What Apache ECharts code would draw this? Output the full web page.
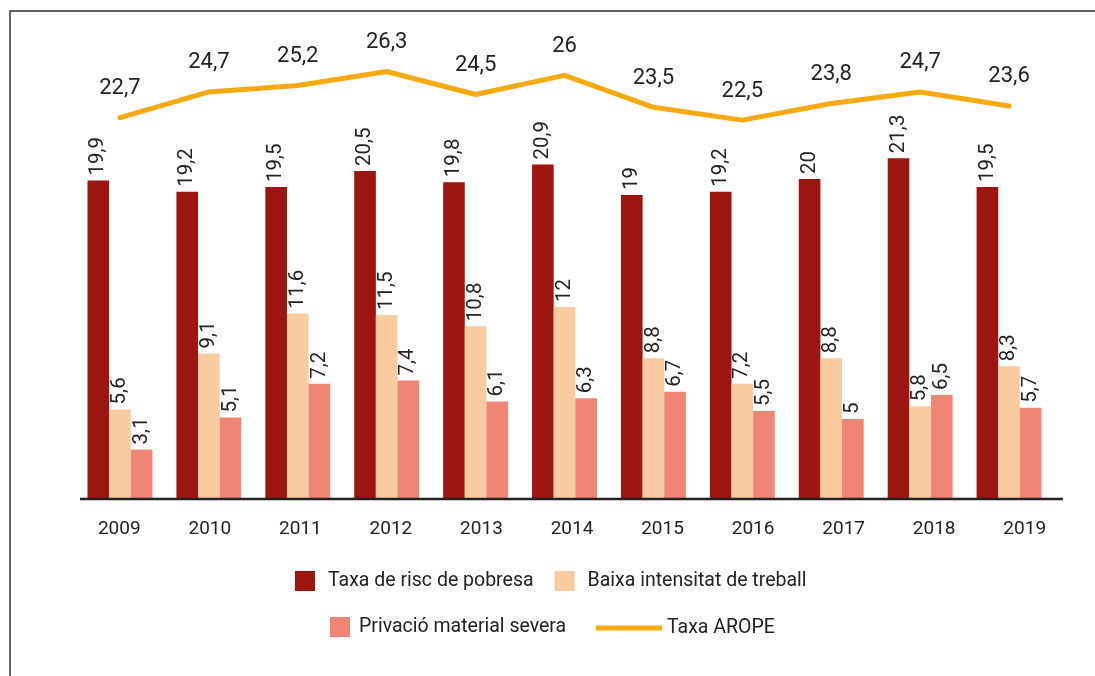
<!DOCTYPE html>
<html>
<head>
<meta charset="utf-8">
<script src="https://cdn.jsdelivr.net/npm/echarts@6/dist/echarts.min.js"></script>
<style>
  html, body { margin: 0; padding: 0; background: #fff; }
  #chart { width: 1095px; height: 676px; }
</style>
</head>
<body>
<div id="chart"></div>
<script>
// anys
const years = ['2009', '2010', '2011', '2012', '2013', '2014', '2015', '2016', '2017', '2018', '2019'];
// taxes (%)
const riscPobresa = [19.9, 19.2, 19.5, 20.5, 19.8, 20.9, 19, 19.2, 20, 21.3, 19.5];
const baixaIntensitat = [5.6, 9.1, 11.6, 11.5, 10.8, 12, 8.8, 7.2, 8.8, 5.8, 8.3];
const privacioMaterial = [3.1, 5.1, 7.2, 7.4, 6.1, 6.3, 6.7, 5.5, 5, 6.5, 5.7];
const taxaArope = [22.7, 24.7, 25.2, 26.3, 24.5, 26, 23.5, 22.5, 23.8, 24.7, 23.6];

const font = 'Roboto';
const txt = '#222';
const coma = p => String(p.value).replace('.', ',');

const barLabel = {
    show: true,
    position: 'top',
    rotate: 90,
    align: 'left',
    verticalAlign: 'middle',
    distance: 5,
    fontFamily: font,
    fontSize: 20.5,
    color: txt,
    formatter: coma
};

const legendText = {fontFamily: font, fontSize: 19.5, color: txt};

const chart = echarts.init(document.getElementById('chart'));
chart.setOption({
    animation: false,
    grid: [
        {left: 75.5, right: 41.5, top: 19, bottom: 177},
        {left: 74, right: 25, top: 19, bottom: 177}   // nomes per les etiquetes dels anys
    ],
    xAxis: [
        {
            type: 'category', data: years, gridIndex: 0,
            axisLine: {show: false}, axisTick: {show: false}, axisLabel: {show: false}
        },
        {
            type: 'category', data: years, gridIndex: 1,
            axisLine: {show: false}, axisTick: {show: false},
            axisLabel: {margin: 21, fontFamily: font, fontSize: 19, color: txt}
        }
    ],
    yAxis: [
        {type: 'value', min: 0, max: 30, show: false, gridIndex: 0},
        {type: 'value', min: -7.1, max: 30.4, show: false, gridIndex: 0},
        {type: 'value', min: 0, max: 30, show: false, gridIndex: 1}
    ],
    legend: [
        {
            data: ['Taxa de risc de pobresa', 'Baixa intensitat de treball'],
            left: 295, top: 571, padding: 0,
            icon: 'rect', itemWidth: 20, itemHeight: 20, itemGap: 21,
            textStyle: Object.assign({padding: [0, 0, 0, 8]}, legendText)
        },
        {
            data: ['Privació material severa'],
            left: 330, top: 617, padding: 0,
            icon: 'rect', itemWidth: 20, itemHeight: 20,
            textStyle: Object.assign({padding: [0, 0, 0, 4]}, legendText)
        },
        {
            data: ['Taxa AROPE'],
            left: 596, top: 618, padding: 0,
            icon: 'rect', itemWidth: 66, itemHeight: 5,
            textStyle: legendText
        }
    ],
    graphic: [
        {
            type: 'polyline', silent: true,
            shape: {points: [[10, 676], [10, 11], [1095, 11]]},
            style: {stroke: '#333', lineWidth: 1.5, fill: null}
        },
        {
            type: 'line', silent: true, z: 10,
            shape: {x1: 80, y1: 499, x2: 1063, y2: 499},
            style: {stroke: '#222', lineWidth: 2.5}
        }
    ],
    series: [
        {
            name: 'Taxa de risc de pobresa', type: 'bar', data: riscPobresa,
            barGap: 0, barCategoryGap: '27%',
            itemStyle: {color: '#9c1510'}, label: barLabel
        },
        {
            name: 'Baixa intensitat de treball', type: 'bar', data: baixaIntensitat,
            itemStyle: {color: '#f9cba1'}, label: barLabel
        },
        {
            name: 'Privació material severa', type: 'bar', data: privacioMaterial,
            itemStyle: {color: '#f08575'}, label: barLabel
        },
        {
            name: 'Taxa AROPE', type: 'line', data: taxaArope, yAxisIndex: 1,
            symbol: 'circle', symbolSize: 0.1, showSymbol: true, z: 5,
            lineStyle: {color: '#f6aa12', width: 5, cap: 'round'},
            itemStyle: {color: '#f6aa12'},
            label: {
                show: true, position: 'top', distance: 18,
                fontFamily: font, fontSize: 22, color: txt, formatter: coma
            }
        }
    ]
});
</script>
</body>
</html>
